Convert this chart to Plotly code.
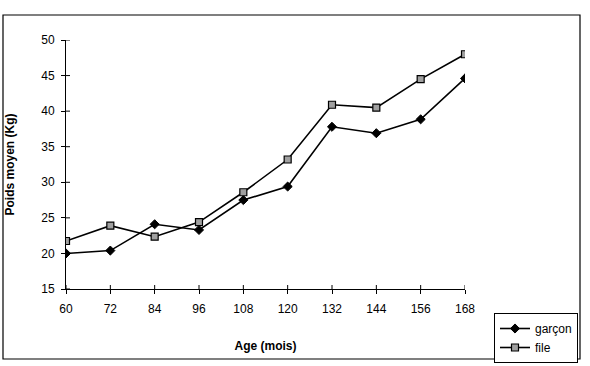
import plotly.graph_objects as go

ages = [60, 72, 84, 96, 108, 120, 132, 144, 156, 168]
garcon = [20.0, 20.4, 24.1, 23.3, 27.5, 29.4, 37.8, 36.9, 38.85, 44.6]
fille = [21.75, 23.9, 22.35, 24.4, 28.6, 33.2, 40.9, 40.5, 44.5, 48.0]
y_ticks = [15, 20, 25, 30, 35, 40, 45, 50]

FONT = "Liberation Sans, Arial, sans-serif"

fig = go.Figure()
fig.add_trace(go.Scatter(
    x=ages, y=garcon, name="garçon", mode="lines+markers",
    line=dict(color="black", width=1.6),
    marker=dict(symbol="diamond", size=7, color="black", line=dict(color="black", width=1)),
))
fig.add_trace(go.Scatter(
    x=ages, y=fille, name="file", mode="lines+markers",
    line=dict(color="black", width=1.6),
    marker=dict(symbol="square", size=7, color="#a0a0a0", line=dict(color="black", width=1.2)),
))

W, H = 590, 366
L, R, T, B = 66, 465, 40, 289

def px(x):
    return (x - L) / (R - L)

def py(y):
    return (B - y) / (B - T)

fig.update_layout(
    width=W, height=H,
    margin=dict(l=L, r=W - R, t=T, b=H - B, autoexpand=False),
    paper_bgcolor="white", plot_bgcolor="white",
    font=dict(family=FONT, size=12, color="black"),
    showlegend=True,
    legend=dict(
        xref="container", yref="container",
        x=494 / W, y=1 - 313 / H, xanchor="left", yanchor="top",
        bgcolor="white", bordercolor="black", borderwidth=1,
        font=dict(family=FONT, size=12, color="black"),
        tracegroupgap=0, itemwidth=30,
    ),
    xaxis=dict(
        range=[60, 168], tickvals=ages, ticktext=[str(a) for a in ages],
        showgrid=False, zeroline=False, showline=True, linecolor="black", linewidth=1,
        ticks="outside", ticklen=4, tickcolor="black", tickfont=dict(size=12),
        ticklabelstandoff=5, automargin=False,
        title=dict(text="<b>Age (mois)</b>", standoff=26, font=dict(size=12)),
    ),
    yaxis=dict(
        range=[15, 50], tickvals=y_ticks,
        showgrid=False, zeroline=False, showline=True, linecolor="black", linewidth=1,
        ticks="outside", ticklen=4, tickcolor="black", tickfont=dict(size=12),
        ticklabelstandoff=4, automargin=False,
        title=dict(text="<b>Poids moyen (Kg)</b>", standoff=24, font=dict(size=12)),
    ),
)

# inner half of Excel-style crossing tick marks, placed through the axis scales
for a in ages:
    fig.add_shape(type="line", xref="x", yref="paper", x0=a, x1=a, y0=0, y1=4 / (B - T),
                  line=dict(color="black", width=1))
for v in y_ticks:
    fig.add_shape(type="line", xref="paper", yref="y", x0=0, x1=4 / (R - L), y0=v, y1=v,
                  line=dict(color="black", width=1))

fig.add_shape(
    type="rect", xref="paper", yref="paper",
    x0=px(3), x1=px(580), y0=py(359), y1=py(15),
    line=dict(color="black", width=1.2), fillcolor="rgba(0,0,0,0)", layer="below",
)

fig.write_html("out.html")
